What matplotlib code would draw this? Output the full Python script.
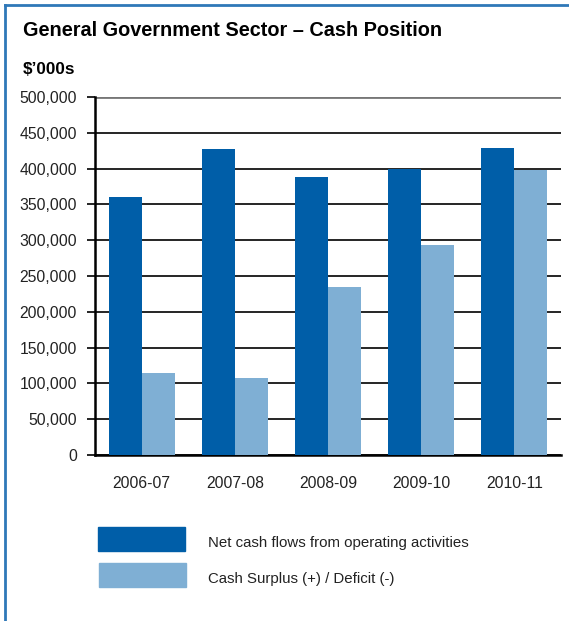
import numpy as np
import matplotlib
matplotlib.use("Agg")
from matplotlib import pyplot as plt
from matplotlib.patches import Rectangle
from matplotlib.lines import Line2D

# Daten ($'000s)
years = ["2006-07", "2007-08", "2008-09", "2009-10", "2010-11"]
net_cash = [360000, 427000, 388000, 400000, 429000]
surplus = [114500, 107500, 234500, 293000, 398000]
yticks = [0, 50000, 100000, 150000, 200000, 250000, 300000, 350000, 400000, 450000, 500000]

dark = "#005ea8"
light = "#7fafd4"

plt.rcParams['font.family'] = ['Liberation Sans', 'DejaVu Sans']

fig = plt.figure(figsize=(5.69, 6.21), dpi=100)
W, H = 569, 621

ax = fig.add_axes([95 / W, 1 - 455 / H, (561 - 95) / W, (455 - 97) / H])

x = np.arange(len(years))
bw = 0.355
ax.bar(x - bw / 2, net_cash, bw, color=dark, zorder=3)
ax.bar(x + bw / 2, surplus, bw, color=light, zorder=3)

ax.set_xlim(-0.5, 4.5)
ax.set_ylim(0, 500000)
ax.set_yticks(yticks)
ax.set_yticklabels([f"{v:,}" for v in yticks], fontsize=11.3, color="#222222")
ax.set_xticks(x)
ax.set_xticklabels(years, fontsize=11.3, color="#222222")
ax.tick_params(axis="y", length=6, width=1.2, pad=7)
ax.tick_params(axis="x", length=0, pad=15)
ax.yaxis.grid(True, color="black", lw=1.2, zorder=0)
ax.set_axisbelow(True)
for s in ["top", "right"]:
    ax.spines[s].set_visible(False)
ax.spines["left"].set_linewidth(1.8)
ax.spines["bottom"].set_linewidth(1.8)
# oberste Gitterlinie grau
ax.get_ygridlines()[-1].set_color("#777777")
ax.get_ygridlines()[-1].set_linewidth(2)

# Titel
fig.text(23 / W, 1 - 31 / H, "General Government Sector \u2013 Cash Position",
         fontsize=14.3, fontweight="bold", va="center", ha="left")
fig.text(23 / W, 1 - 70 / H, "$\u2019000s", fontsize=12.3, fontweight="bold",
         va="center", ha="left")

# Legende
fig.patches.append(Rectangle((98 / W, 1 - 551 / H), 87 / W, 24 / H,
                             transform=fig.transFigure, color=dark))
fig.patches.append(Rectangle((99 / W, 1 - 587 / H), 87 / W, 24 / H,
                             transform=fig.transFigure, color=light))
fig.text(208 / W, 1 - 543 / H, "Net cash flows from operating activities",
         fontsize=10.8, va="center", color="#222222")
fig.text(208 / W, 1 - 579 / H, "Cash Surplus (+) / Deficit (-)",
         fontsize=10.8, va="center", color="#222222")

# Rahmen
fig.lines.append(Line2D([5 / W, 5 / W], [0, 1 - 5 / H], transform=fig.transFigure,
                        color="#2f78b8", lw=2))
fig.lines.append(Line2D([5 / W, 1], [1 - 5 / H, 1 - 5 / H], transform=fig.transFigure,
                        color="#2f78b8", lw=2))

fig.savefig("out.png", dpi=100)
